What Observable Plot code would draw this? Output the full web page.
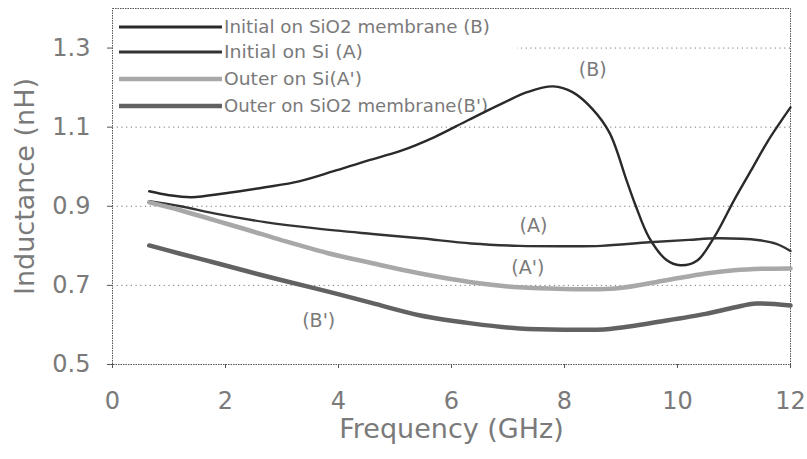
<!DOCTYPE html>
<html>
<head>
<meta charset="utf-8">
<script src="https://cdn.jsdelivr.net/npm/d3@7"></script>
<script src="https://cdn.jsdelivr.net/npm/@observablehq/plot@0.6"></script>
<style>
  html, body { margin: 0; padding: 0; background: #fff; }
  #wrap { position: relative; width: 807px; height: 459px; }
  #legend { position: absolute; left: 113px; top: 11px; }
  #top { position: absolute; left: 0; top: 0; }
</style>
</head>
<body>
<div id="wrap"><div id="chart"></div><div id="legend"></div><div id="top"></div></div>
<script>
// ---- data ----
const seriesNames = [
  "Initial on SiO2 membrane (B)",
  "Initial on Si (A)",
  "Outer on Si(A')",
  "Outer on SiO2 membrane(B')"
];
const freqB = [0.65, 1.0, 1.4, 2.0, 2.7, 3.3, 3.9, 4.5, 5.1, 5.7, 6.3, 6.9, 7.35, 7.8, 8.15, 8.5, 8.8, 9.1, 9.25, 9.5, 9.8, 10.05, 10.35, 10.65, 11.0, 11.3, 11.6, 12.0];
const valB  = [0.938, 0.928, 0.923, 0.933, 0.948, 0.963, 0.988, 1.015, 1.040, 1.075, 1.118, 1.160, 1.189, 1.203, 1.188, 1.145, 1.085, 0.965, 0.905, 0.820, 0.765, 0.751, 0.763, 0.822, 0.915, 0.990, 1.065, 1.150];
const freqA = [0.65, 1.2, 1.8, 2.7, 3.6, 4.6, 5.45, 6.35, 7.2, 8.0, 8.65, 9.5, 10.2, 10.7, 11.45, 11.75, 12.0];
const valA  = [0.913, 0.900, 0.882, 0.860, 0.844, 0.830, 0.819, 0.806, 0.800, 0.799, 0.800, 0.809, 0.815, 0.819, 0.814, 0.805, 0.787];
const freqA2 = [0.65, 1.2, 1.8, 2.4, 3.0, 3.8, 4.6, 5.45, 6.35, 7.2, 8.0, 8.9, 9.8, 10.5, 11.0, 11.5, 12.0];
const valA2  = [0.910, 0.890, 0.865, 0.840, 0.814, 0.782, 0.756, 0.730, 0.708, 0.695, 0.691, 0.692, 0.713, 0.730, 0.738, 0.742, 0.743];
const freqB2 = [0.65, 1.2, 1.8, 2.4, 3.0, 3.8, 4.6, 5.45, 6.35, 7.2, 8.0, 8.8, 9.8, 10.5, 11.0, 11.4, 12.0];
const valB2  = [0.801, 0.780, 0.758, 0.735, 0.713, 0.685, 0.655, 0.624, 0.604, 0.591, 0.588, 0.590, 0.611, 0.628, 0.644, 0.654, 0.649];

const xTicks = [0, 2, 4, 6, 8, 10, 12];
const yTicks = [0.5, 0.7, 0.9, 1.1, 1.3];
const gridTicks = [0.7, 0.9, 1.1, 1.3];

const annLabels = ["(B)", "(A)", "(A')", "(B')"];
const annFreq = [8.5, 7.45, 7.35, 3.65];
const annVal  = [1.245, 0.850, 0.745, 0.611];

// ---- styles ----
const colors = ["#2a2a2a", "#333333", "#a8a8a8", "#626262"];
const widths = [2.4, 2.4, 4.5, 4.5];
const textColor = "#7a7a7a";
const font = "DejaVu Sans";

const seriesData = [
  [freqB, valB], [freqA, valA], [freqA2, valA2], [freqB2, valB2]
].map(([f, v], i) => f.map((x, j) => ({series: seriesNames[i], f: x, v: v[j]})));

const annData = annLabels.map((t, i) => ({t, f: annFreq[i], v: annVal[i]}));

const common = {
  width: 807,
  height: 459,
  marginLeft: 112,
  marginRight: 17,
  marginTop: 8,
  marginBottom: 95
};

// bottom layer: grid, frame, axes, titles
const base = Plot.plot({
  ...common,
  style: {fontFamily: font, background: "#fff"},
  x: {domain: [0, 12]},
  y: {domain: [0.5, 1.4]},
  marks: [
    Plot.ruleY(gridTicks, {stroke: "#777", strokeWidth: 1, strokeDasharray: "1.2,3.5"}),
    Plot.frame({stroke: "#555", strokeWidth: 1, strokeDasharray: "1.5,1"}),
    Plot.axisX({ticks: xTicks, tickSize: 4, tickPadding: 23, fontSize: 24, color: textColor, stroke: "#555", label: null}),
    Plot.axisY({ticks: yTicks, tickFormat: d3.format(".1f"), tickSize: 5, tickPadding: 17, fontSize: 24, color: textColor, stroke: "#555", label: null}),
    Plot.text(["Frequency (GHz)"], {frameAnchor: "bottom", dy: 73, fontSize: 27, fill: textColor}),
    Plot.text(["Inductance (nH)"], {frameAnchor: "left", textAnchor: "middle", dx: -87, rotate: -90, fontSize: 27, fill: textColor})
  ]
});
document.getElementById("chart").appendChild(base);

// top layer: data lines and annotations (transparent)
const lineMarks = seriesData.map((d, i) =>
  Plot.line(d, {x: "f", y: "v", stroke: colors[i], strokeWidth: widths[i], curve: "catmull-rom"})
);
const topPlot = Plot.plot({
  ...common,
  style: {fontFamily: font, background: "transparent"},
  x: {domain: [0, 12], axis: null},
  y: {domain: [0.5, 1.4], axis: null},
  marks: [
    ...lineMarks,
    Plot.text(annData, {x: "f", y: "v", text: "t", fontSize: 19, fill: textColor})
  ]
});
document.getElementById("top").appendChild(topPlot);

// ---- legend (inside plot area, white box, between layers) ----
const legW = 404, legH = 106;
const rowY = [16, 41, 68, 95];
const textLen = [266, 139, 138, 264];
const ns = "http://www.w3.org/2000/svg";
const leg = document.createElementNS(ns, "svg");
leg.setAttribute("width", legW);
leg.setAttribute("height", legH);
leg.style.background = "#fff";
leg.style.display = "block";
seriesNames.forEach((name, i) => {
  const l = document.createElementNS(ns, "line");
  l.setAttribute("x1", 6); l.setAttribute("x2", 109);
  l.setAttribute("y1", rowY[i]); l.setAttribute("y2", rowY[i]);
  l.setAttribute("stroke", colors[i]);
  l.setAttribute("stroke-width", widths[i] + (i < 2 ? 0.6 : 0));
  leg.appendChild(l);
  const t = document.createElementNS(ns, "text");
  t.setAttribute("x", 111);
  t.setAttribute("y", rowY[i]);
  t.setAttribute("dy", "0.36em");
  t.setAttribute("fill", textColor);
  t.setAttribute("font-family", font);
  t.setAttribute("font-size", 17);
  t.setAttribute("textLength", textLen[i]);
  t.setAttribute("lengthAdjust", "spacingAndGlyphs");
  t.textContent = name;
  leg.appendChild(t);
});
document.getElementById("legend").appendChild(leg);
</script>
</body>
</html>
